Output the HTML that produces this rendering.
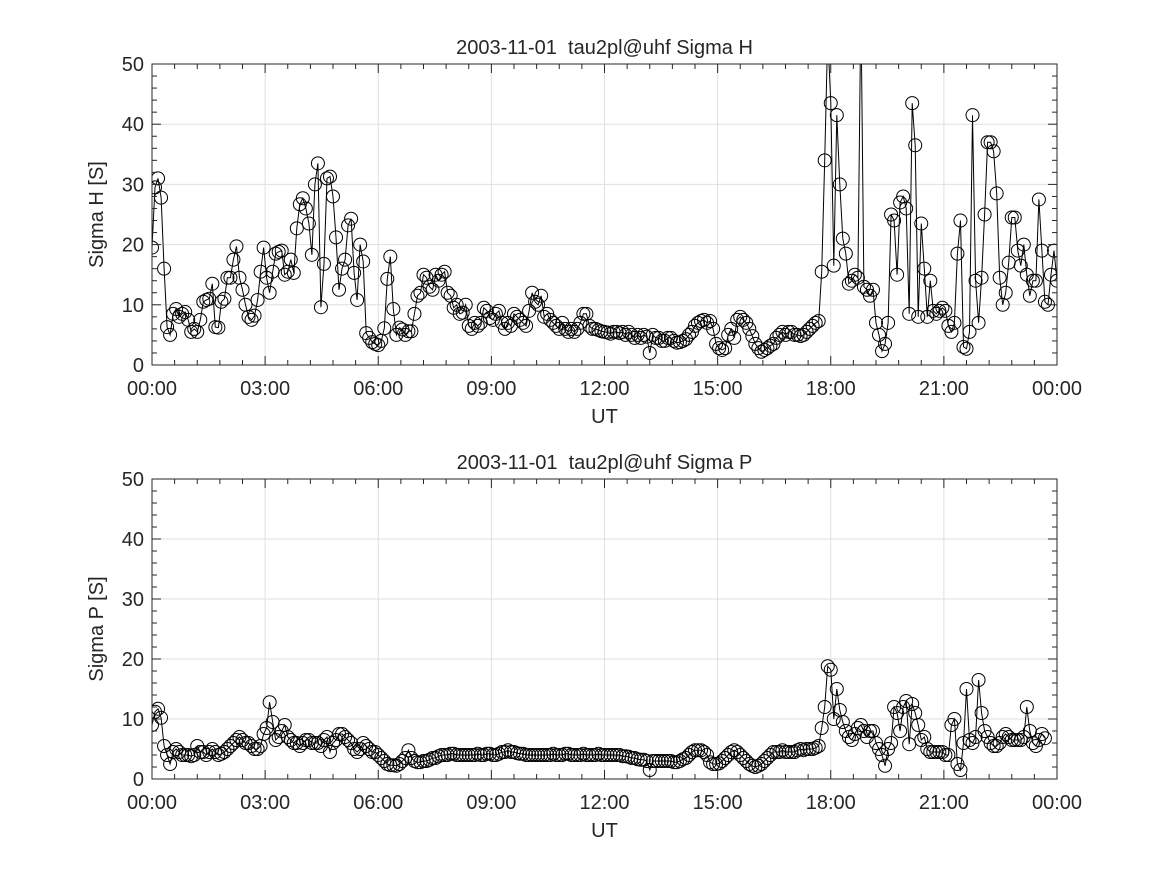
<!DOCTYPE html>
<html><head><meta charset="utf-8"><style>
body{margin:0;background:#fff}
text{font-family:"Liberation Sans","DejaVu Sans",sans-serif;fill:#262626}
</style></head><body>
<svg id="s" width="1167" height="875" xmlns="http://www.w3.org/2000/svg"></svg>
<script>
const sigmaH=[19.5,29.5,31,27.8,16,6.3,5,8.5,9.3,8,8.5,8.8,7.5,5.5,6,5.5,7.5,10.5,10.8,11,13.5,6.3,6.2,10.5,11,14.5,14.5,17.5,19.7,14.5,12.5,10,8,7.5,8.2,10.8,15.5,19.5,14.5,12,15.5,18.5,18.8,19,15,15.5,17.5,15.3,22.7,26.7,27.7,26,23.5,18.3,30,33.5,9.6,16.8,31,31.3,28,21.2,12.5,16,17.5,23.2,24.3,15.3,10.8,20,17.2,5.3,4.5,3.8,3.5,3.3,4,6.1,14.3,18,9.3,5,6.2,5.9,5,5.6,5.6,8.5,11.5,12,15,14.5,13,12.5,15,14,15,15.5,12,11.5,9.5,10,8.5,8.7,10,6.5,6,7,6.5,7,9.5,9,7.8,7.5,8.5,9,7,6,7,6.5,8.5,8,7.5,7,6.5,9,12,10.5,10,11.5,8,8.5,7.5,7,6.5,6,7,6,5.5,6,5.5,6,7,8.5,8.5,6.5,6,6,5.8,5.6,5.5,5.4,5.2,5.5,5.5,5.3,5.5,5,5.5,5,4.5,5,4.5,5,4.7,2,5,4.5,4.5,4,4,4.5,4.5,4,3.7,3.8,4,4.3,5,5.5,6.5,7,7.3,7.5,7,7.3,6,3.5,2.8,2.5,2.8,5,6,4.5,7.5,8,7.5,7,6,4.8,3.5,2.8,2.2,2.5,2.8,3.2,3.5,4.5,5,5.5,5,5.5,5.5,5,5,4.8,5,5.5,6,6.5,7,7.3,15.5,34,55,43.5,16.5,41.5,30,21,18.5,13.5,14,15,14.5,60,13,12.5,11.5,12.5,7,5,2.3,3.5,7,25,24,15,27,28,26,8.5,43.5,36.5,8,23.5,16,8,14,9,8.5,9,9.5,9,6.5,5.5,7,18.5,24,3,2.7,5.5,41.5,14,7,14.5,25,37,37,35.5,28.5,14.5,10,12,17,24.5,24.5,19,16.5,20,15,11.5,14,14,27.5,19,10.5,10,15,19,14];
const sigmaP=[9,11.2,11.7,10.2,5.5,4,2.5,4.5,5,4.5,4,4,4,3.8,4,5.5,4.5,4.5,4,4.5,5,4.5,4,4.2,4.5,5,5.5,6,6.5,7,6.5,6,6,5.5,5,5,5.5,7.5,8.5,12.8,9.5,6.5,7,8,9,7,6.5,6,6,5.5,6,6.5,6.5,6,6,6,5.5,6.5,7,4.5,6,6.5,7.5,7.5,7,6.5,6,5,4.5,5,6,5.5,5,4.5,4.5,4,3.5,3,2.5,2.3,2.3,2.2,2.5,3,3.5,4.8,3.5,3,2.8,2.8,3,3,3.2,3.5,3.5,3.8,4,4,4,4.2,4.2,4,4,4,4,4,4,4,4.2,4,4,4.2,4.2,4,4,4.2,4.5,4.5,4.8,4.5,4.5,4.3,4.2,4.2,4,4,4,4,4,4,4,4,4,4.2,4,4,4,4.2,4.2,4,4,4,4,4.2,4,4,4,4,4.2,4,4,4,4,4,4,4,3.8,3.8,3.7,3.5,3.5,3.3,3.2,3.2,3,1.5,3,3,3,3,3,3,3,2.8,2.8,3,3.3,3.5,4,4.5,4.8,4.8,4.8,4.5,4,2.8,2.5,2.5,2.6,3,3.5,4,4.5,4.8,4.5,4,3.5,3,2.5,2.2,2,2.2,2.5,3,3.5,4,4.5,4.5,4.5,4.8,4.5,4.5,4.5,4.5,4.8,5,4.8,5,5,5,5.2,5.5,8.5,12,18.8,18.2,10,15,11.5,9.5,8,7,6.5,7.5,8.5,9,8,7,8,8,6,5,4,2.2,5,6,12,11,8,12,13,5.8,12.5,11,9,6.5,7,5,4.5,4.5,4.5,4.5,4.5,4,4,9,10,2.5,1.5,6,15,6.5,6,7,16.5,11,8,7,6,5.5,5.5,6,7,7.5,7,6.5,6.5,6.5,6.5,7,12,8,6,5.5,6.5,7.5,6.8];
const sampleStepHours=0.08;
const xTickLabels=["00:00","03:00","06:00","09:00","12:00","15:00","18:00","21:00","00:00"];
const yTicks=[0,10,20,30,40,50];
const NS="http://www.w3.org/2000/svg";
const svg=document.getElementById('s');
function el(t,a,p){const e=document.createElementNS(NS,t);for(const k in a)e.setAttribute(k,a[k]);(p||svg).appendChild(e);return e;}
function panel(name,vals,top,bot,title,ylab){
  const L=152,R=1057;
  const g=el('g',{});
  
  
  const xs=h=>L+(R-L)*h/24, ys=v=>bot-(bot-top)*v/50;
  xTickLabels.forEach((t,i)=>{const x=xs(i*3);if(i>0&&i<8)el('line',{x1:x,x2:x,y1:top,y2:bot,stroke:'#dfdfdf'},g);});
  yTicks.forEach(v=>{if(v>0&&v<50)el('line',{x1:L,x2:R,y1:ys(v),y2:ys(v),stroke:'#dfdfdf'},g);});
  const step=sampleStepHours;
  const clip='c'+name;
  const cp=el('clipPath',{id:clip},g);el('rect',{x:L,y:top,width:R-L,height:bot-top},cp);
  const dg=el('g',{'clip-path':'url(#'+clip+')'},g);
  let d='';vals.forEach((v,i)=>{d+=(i?'L':'M')+xs(i*step).toFixed(1)+','+ys(v).toFixed(1);});
  const ln=el('path',{d:d,fill:'none',stroke:'#000','stroke-width':1},dg);
  
  
  vals.forEach((v,i)=>{const c=el('circle',{cx:xs(i*step),cy:ys(v),r:6.5,fill:'none',stroke:'#000','stroke-width':1},dg);
    
    });
  for(let m=0;m<=40;m++){const x=xs(m*0.6),len=m%5==0?9:5;
    el('line',{x1:x,x2:x,y1:bot,y2:bot-len,stroke:'#262626'},g);el('line',{x1:x,x2:x,y1:top,y2:top+len,stroke:'#262626'},g);}
  for(let v=0;v<=50;v+=2){const y=ys(v),len=v%10==0?9:5;
    el('line',{x1:L,x2:L+len,y1:y,y2:y,stroke:'#262626'},g);el('line',{x1:R,x2:R-len,y1:y,y2:y,stroke:'#262626'},g);}
  el('rect',{x:L,y:top,width:R-L,height:bot-top,fill:'none',stroke:'#262626'},g);
  xTickLabels.forEach((t,i)=>{const e=el('text',{x:xs(i*3),y:bot+30,'text-anchor':'middle','font-size':20},g);e.textContent=t;
    });
  yTicks.forEach(v=>{const e=el('text',{x:L-8,y:ys(v)+7,'text-anchor':'end','font-size':20},g);e.textContent=v;
    });
  const tt=el('text',{x:(L+R)/2,y:top-10,'text-anchor':'middle','font-size':20},g);tt.textContent='2003-11-01\u00a0\u00a0'+title;
  
  const xl=el('text',{x:(L+R)/2,y:bot+58,'text-anchor':'middle','font-size':20},g);xl.textContent='UT';
  
  const yl=el('text',{x:0,y:0,'text-anchor':'middle','font-size':20,transform:`translate(103,${(top+bot)/2}) rotate(-90)`},g);yl.textContent=ylab;
  
}
panel('sigma-h-panel',sigmaH,64,365,'tau2pl@uhf Sigma H','Sigma H [S]');
panel('sigma-p-panel',sigmaP,479,779,'tau2pl@uhf Sigma P','Sigma P [S]');
</script>
</body></html>
